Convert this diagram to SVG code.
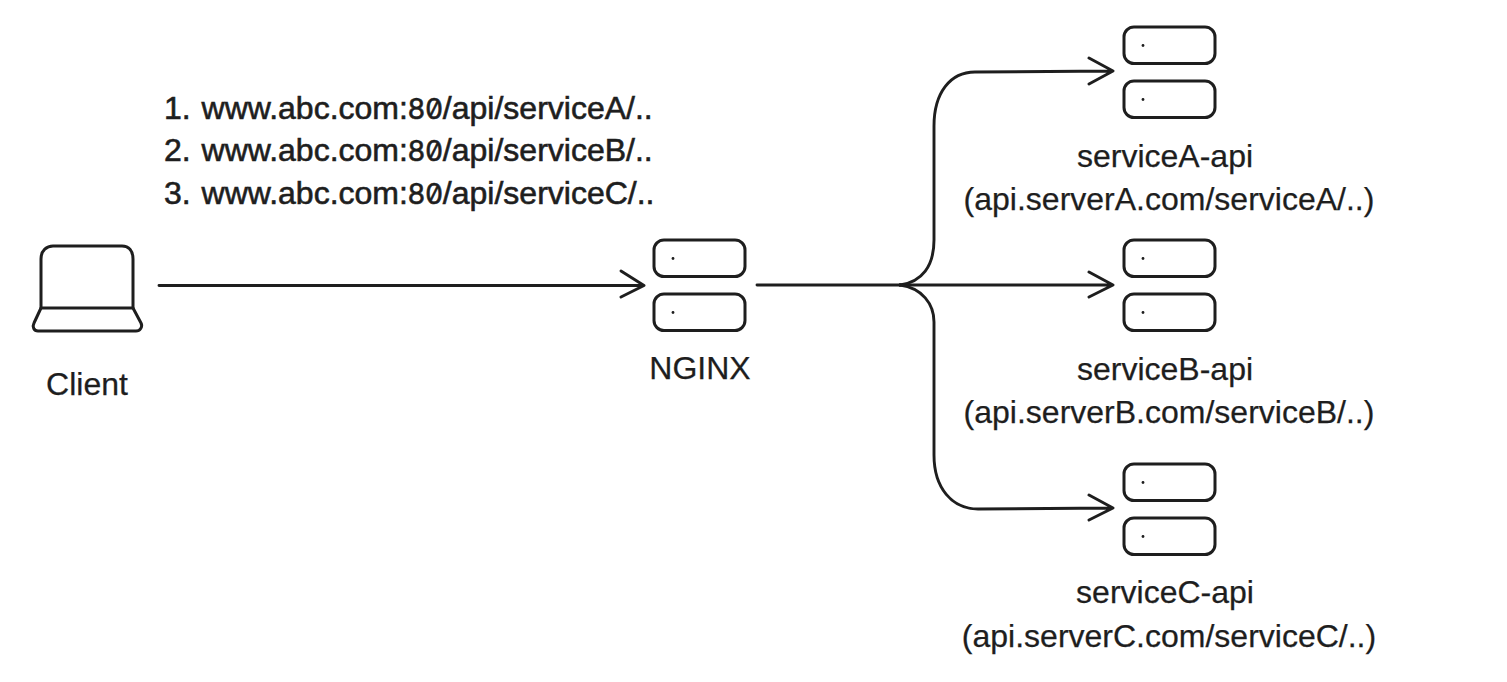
<svg xmlns="http://www.w3.org/2000/svg" width="1507" height="682" viewBox="0 0 1507 682">
<style>
text{font-family:"Liberation Sans",Arial,sans-serif;font-size:32px;fill:#1e1e1e;stroke:#1e1e1e;stroke-width:.25;text-anchor:middle}
.u{text-anchor:start;stroke-width:.6}
.z{font-family:Inter,"Liberation Sans",sans-serif;font-size:28px;font-feature-settings:"zero" 1}
.b,.l,.c{fill:none;stroke:#1e1e1e;stroke-linecap:round;stroke-linejoin:round}
.b{stroke-width:3;fill:#fff}
.l{stroke-width:3}
.c{stroke-width:2.9}
.d{fill:#1e1e1e}
</style>
<defs>
<g id="server">
<rect class="b" x="0" y="0" width="91" height="36.500" rx="10"/>
<circle class="d" cx="19" cy="18.500" r="1.400"/>
<rect class="b" x="0" y="54" width="91" height="36.500" rx="10"/>
<circle class="d" cx="19" cy="72.500" r="1.400"/>
</g>
</defs>
<g id="connectors">
<path class="c" d="M159 285.500H643M621 271L644 285.500L621 297"/>
<path class="c" d="M757 285H900"/>
<path class="c" d="M900 285C922 282 934 266 934 240V126C934 93 950 72 975 72L1112 71M1089 58L1113 71L1089 84"/>
<path class="c" d="M900 285H1112M1089 272L1113 285L1089 297"/>
<path class="c" d="M900 285C922 288 934 304 934 322V455C934 488 952 509 978 509L1112 508M1089 495L1113 508L1089 520"/>
</g>
<g id="client">
<path class="l" d="M41 308V259C41 250 47 246 53 246H122C129 246 133 251 133 259V308"/>
<path class="l" d="M41 308H133L141 323C143 327 140 331 136 331H38C34 331 32 327 34 323Z"/>
<text x="87" y="395">Client</text>
</g>
<g id="request-list">
<text class="u" x="164" y="119">1. <tspan dx="2">www.abc.com:</tspan><tspan class="z">80</tspan>/api/serviceA/..</text>
<text class="u" x="164" y="161">2. <tspan dx="2">www.abc.com:</tspan><tspan class="z">80</tspan>/api/serviceB/..</text>
<text class="u" x="164" y="204">3. <tspan dx="2">www.abc.com:</tspan><tspan class="z">80</tspan>/api/serviceC/..</text>
</g>
<g id="nginx">
<use href="#server" x="654" y="240"/>
<text x="700" y="379">NGINX</text>
</g>
<g id="serviceA">
<use href="#server" x="1124" y="27"/>
<text x="1165" y="167">serviceA-api</text>
<text x="1169" y="210">(api.serverA.com/serviceA/..)</text>
</g>
<g id="serviceB">
<use href="#server" x="1124" y="240"/>
<text x="1165" y="380">serviceB-api</text>
<text x="1169" y="423">(api.serverB.com/serviceB/..)</text>
</g>
<g id="serviceC">
<use href="#server" x="1124" y="464"/>
<text x="1165" y="603">serviceC-api</text>
<text x="1169" y="647">(api.serverC.com/serviceC/..)</text>
</g>
</svg>
